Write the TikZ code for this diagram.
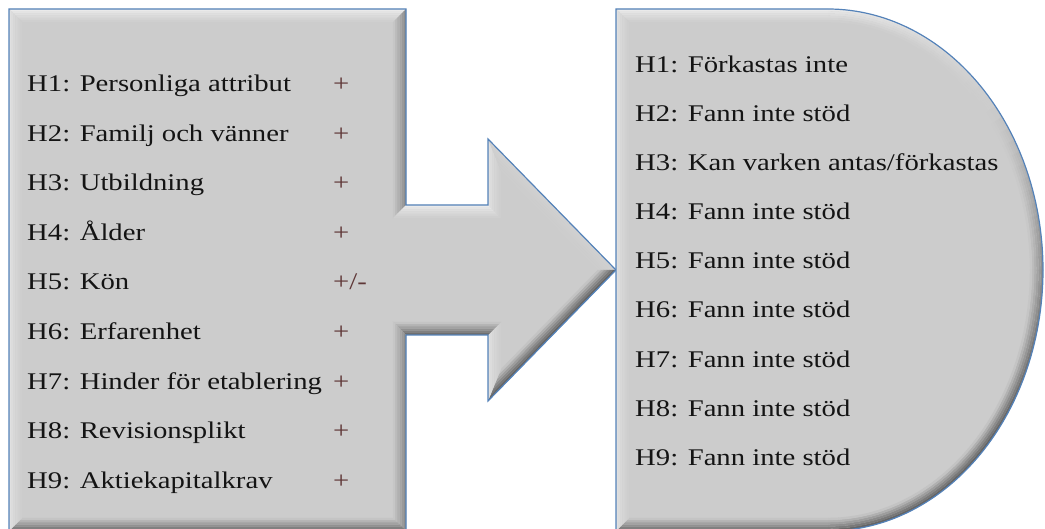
\documentclass[tikz,border=0pt]{standalone}
\usepackage{fontspec}
\setmainfont{Liberation Serif}[FakeStretch=1.2]
\usetikzlibrary{calc}
\definecolor{basegray}{RGB}{204,204,204}
\definecolor{edgeblue}{RGB}{84,130,185}
\definecolor{txt}{RGB}{20,20,20}
\definecolor{plustxt}{RGB}{95,55,55}

% bevel strip: #1 outer start, #2 outer end, #3 inner end, #4 inner start, #5 brightness (-1..1)
\newcommand{\bevelband}[5]{%
  \foreach \k in {0,...,5}{%
    \pgfmathsetmacro{\fa}{\k/6}%
    \pgfmathsetmacro{\fb}{(\k+1.08)/6}%
    \pgfmathsetmacro{\wt}{1-(\k+0.5)/6}%
    \pgfmathsetmacro{\pl}{max(#5,0)*70*\wt}%
    \pgfmathsetmacro{\pd}{max(-(#5),0)*55*\wt}%
    \colorlet{tmpc}{white!\pl!basegray}%
    \colorlet{bandc}{black!\pd!tmpc}%
    \fill[bandc] ($(#1)!\fa!(#4)$) -- ($(#2)!\fa!(#3)$) -- ($(#2)!\fb!(#3)$) -- ($(#1)!\fb!(#4)$) -- cycle;
  }%
}

\begin{document}
\begin{tikzpicture}[x=1bp,y=-1bp,
  txtstyle/.style={font=\fontsize{24}{28}\selectfont, text=txt, inner sep=0pt, anchor=base west},
  plusstyle/.style={txtstyle, text=plustxt},
  outline/.style={draw=edgeblue, line width=1.2bp, line join=miter}]
\useasboundingbox (0,0) rectangle (1045,529);

% ---------- left shape (box with arrow) ----------
\coordinate (A) at (9,9);     \coordinate (Ai) at (22,22);
\coordinate (B) at (406,9);   \coordinate (Bi) at (393,22);
\coordinate (C) at (406,205); \coordinate (Ci) at (393,218);
\coordinate (D) at (488,205); \coordinate (Di) at (501,218);
\coordinate (E) at (488,139); \coordinate (Ei) at (501,170.9);
\coordinate (F) at (616,270); \coordinate (Fi) at (597.8,270);
\coordinate (G) at (488,401); \coordinate (Gi) at (501,369.1);
\coordinate (H) at (488,335); \coordinate (Hi) at (501,322);
\coordinate (I) at (406,335); \coordinate (Ii) at (393,322);
\coordinate (J) at (406,531); \coordinate (Ji) at (393,518);
\coordinate (K) at (9,531);   \coordinate (Ki) at (22,518);

\fill[basegray] (A) -- (B) -- (C) -- (D) -- (E) -- (F) -- (G) -- (H) -- (I) -- (J) -- (K) -- cycle;
\bevelband{A}{B}{Bi}{Ai}{0.9}
\bevelband{B}{C}{Ci}{Bi}{-0.6}
\bevelband{C}{D}{Di}{Ci}{0.9}
\bevelband{D}{E}{Ei}{Di}{0.6}
\bevelband{E}{F}{Fi}{Ei}{0.15}
\bevelband{F}{G}{Gi}{Fi}{-1}
\bevelband{G}{H}{Hi}{Gi}{0.6}
\bevelband{H}{I}{Ii}{Hi}{-0.9}
\bevelband{I}{J}{Ji}{Ii}{-0.6}
\bevelband{J}{K}{Ki}{Ji}{-0.9}
\bevelband{K}{A}{Ai}{Ki}{0.6}
\draw[outline] (A) -- (B) -- (C) -- (D) -- (E) -- (F) -- (G) -- (H) -- (I) -- (J) -- (K) -- cycle;

% ---------- right shape (delay) ----------
\coordinate (P) at (616,9);   \coordinate (Pi) at (629,22);
\coordinate (Q) at (828,9);   \coordinate (Qi) at (828,22);
\coordinate (R) at (828,531); \coordinate (Ri) at (828,518);
\coordinate (S) at (616,531); \coordinate (Si) at (629,518);

\fill[basegray] (P) -- (Q) -- plot[domain=-90:90, samples=121] ({828+215*cos(\x)},{270+261*sin(\x)}) -- (S) -- cycle;
\bevelband{P}{Q}{Qi}{Pi}{0.9}
\bevelband{R}{S}{Si}{Ri}{-0.9}
\bevelband{S}{P}{Pi}{Si}{0.6}
\foreach \t in {-90,-87,...,87}{%
  \pgfmathsetmacro{\tn}{min(\t+3.15,90)}%
  \pgfmathsetmacro{\tm}{\t+1.5}%
  \pgfmathsetmacro{\nx}{cos(\tm)*1.214}%
  \pgfmathsetmacro{\ny}{sin(\tm)}%
  \pgfmathsetmacro{\nn}{sqrt(\nx*\nx+\ny*\ny)}%
  \pgfmathsetmacro{\sv}{max(min((-0.6*\nx-0.9*\ny)/\nn,1),-1)}%
  \foreach \k in {0,...,5}{%
    \pgfmathsetmacro{\wa}{13*\k/6}%
    \pgfmathsetmacro{\wb}{13*(\k+1.08)/6}%
    \pgfmathsetmacro{\wt}{1-(\k+0.5)/6}%
    \pgfmathsetmacro{\pl}{max(\sv,0)*70*\wt}%
    \pgfmathsetmacro{\pd}{max(-\sv,0)*55*\wt}%
    \colorlet{tmpc}{white!\pl!basegray}%
    \colorlet{bandc}{black!\pd!tmpc}%
    \fill[bandc] ({828+(215-\wa)*cos(\t)},{270+(261-\wa)*sin(\t)})
      -- ({828+(215-\wa)*cos(\tn)},{270+(261-\wa)*sin(\tn)})
      -- ({828+(215-\wb)*cos(\tn)},{270+(261-\wb)*sin(\tn)})
      -- ({828+(215-\wb)*cos(\t)},{270+(261-\wb)*sin(\t)}) -- cycle;
  }%
}
\draw[outline] (P) -- (Q) -- plot[domain=-90:90, samples=121] ({828+215*cos(\x)},{270+261*sin(\x)}) -- (S) -- cycle;

% ---------- left texts ----------
\node[txtstyle] (l1) at (27,91.5)  {H1: Personliga attribut};
\node[txtstyle] (l2) at (27,141.1) {H2: Familj och vänner};
\node[txtstyle] (l3) at (27,190.7) {H3: Utbildning};
\node[txtstyle] (l4) at (27,240.3) {H4: Ålder};
\node[txtstyle] (l5) at (27,289.9) {H5: Kön};
\node[txtstyle] (l6) at (27,339.5) {H6: Erfarenhet};
\node[txtstyle] (l7) at (27,389.1) {H7: Hinder för etablering};
\node[txtstyle] (l8) at (27,438.7) {H8: Revisionsplikt};
\node[txtstyle] (l9) at (27,488.3) {H9: Aktiekapitalkrav};

\node[plusstyle] (s1) at (333,91.5)  {+};
\node[plusstyle] (s2) at (333,141.1) {+};
\node[plusstyle] (s3) at (333,190.7) {+};
\node[plusstyle] (s4) at (333,240.3) {+};
\node[plusstyle] (s5) at (333,289.9) {+/-};
\node[plusstyle] (s6) at (333,339.5) {+};
\node[plusstyle] (s7) at (333,389.1) {+};
\node[plusstyle] (s8) at (333,438.7) {+};
\node[plusstyle] (s9) at (333,488.3) {+};

% ---------- right texts ----------
\node[txtstyle] (r1) at (635,72.5)  {H1: Förkastas inte};
\node[txtstyle] (r2) at (635,121.6) {H2: Fann inte stöd};
\node[txtstyle] (r3) at (635,170.7) {H3: Kan varken antas/förkastas};
\node[txtstyle] (r4) at (635,219.8) {H4: Fann inte stöd};
\node[txtstyle] (r5) at (635,268.9) {H5: Fann inte stöd};
\node[txtstyle] (r6) at (635,318.0) {H6: Fann inte stöd};
\node[txtstyle] (r7) at (635,367.1) {H7: Fann inte stöd};
\node[txtstyle] (r8) at (635,416.2) {H8: Fann inte stöd};
\node[txtstyle] (r9) at (635,465.3) {H9: Fann inte stöd};
\end{tikzpicture}
\end{document}
